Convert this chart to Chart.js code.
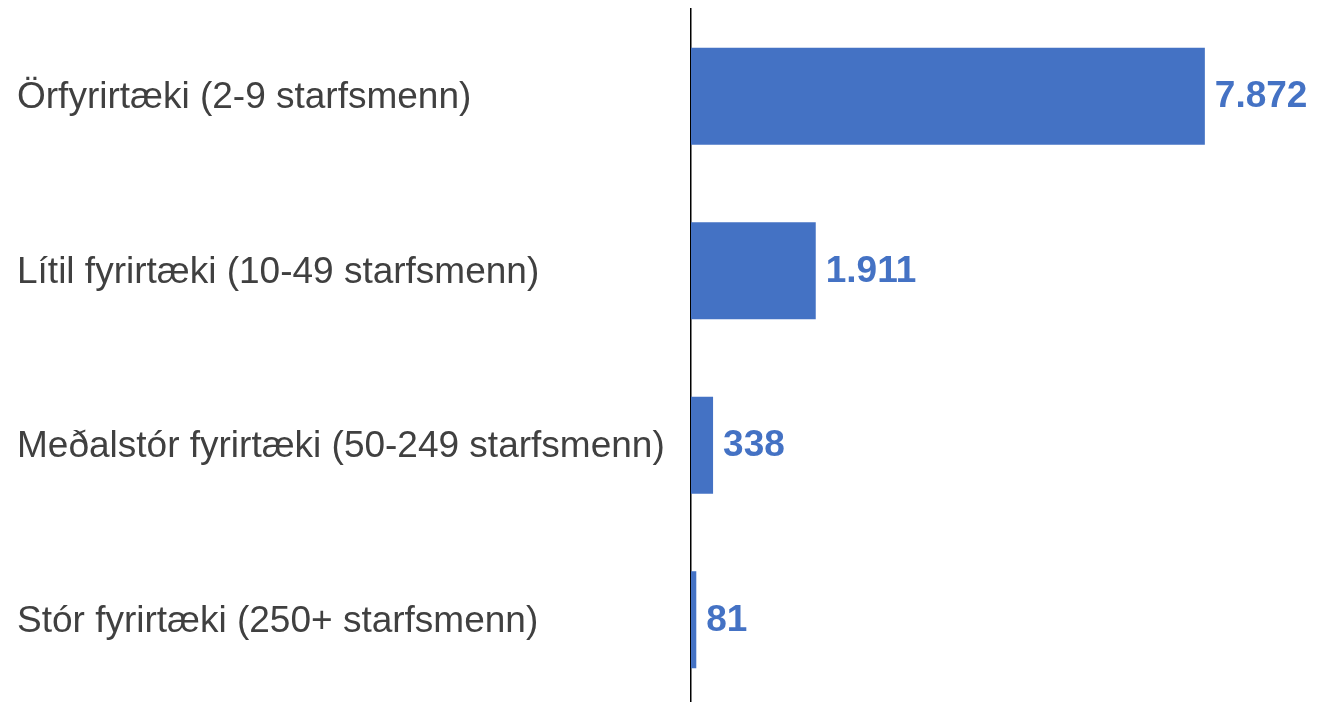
<!DOCTYPE html>
<html>
<head>
<meta charset="utf-8">
<script src="https://cdn.jsdelivr.net/npm/chart.js@4/dist/chart.umd.min.js"></script>
<style>
  html, body { margin: 0; padding: 0; background: #fff; overflow: hidden; }
  canvas { display: block; }
</style>
</head>
<body>
<canvas id="size-chart" width="1317" height="702"></canvas>
<script>
// fjöldi fyrirtækja eftir stærð
const categories = [
    'Örfyrirtæki (2-9 starfsmenn)',
    'Lítil fyrirtæki (10-49 starfsmenn)',
    'Meðalstór fyrirtæki (50-249 starfsmenn)',
    'Stór fyrirtæki (250+ starfsmenn)'
];
const values = [7872, 1911, 338, 81];

const blue = '#4472C4';

// thousands separator is a dot
function fmt(v) {
    return String(v).replace(/\B(?=(\d{3})+(?!\d))/g, '.');
}

// the original axis runs a little past the bottom edge, so stretch the y scale
const stretchY = {
    id: 'stretchY',
    afterLayout(chart) {
        const y = chart.scales.y;
        y.bottom = 707;
        y.height = y.bottom - y.top;
        y.configure();
    }
};

// draws the value right of each bar
const valueLabels = {
    id: 'valueLabels',
    afterDatasetsDraw(chart) {
        const ctx = chart.ctx;
        const meta = chart.getDatasetMeta(0);
        ctx.save();
        ctx.font = 'bold 37px "Liberation Sans", Arial, sans-serif';
        ctx.fillStyle = blue;
        ctx.textAlign = 'left';
        ctx.textBaseline = 'middle';
        meta.data.forEach(function(bar, i) {
            ctx.fillText(fmt(values[i]), bar.x + 10, bar.y + 1);
        });
        ctx.restore();
    }
};

var ctx = document.getElementById('size-chart');

var chart = new Chart(ctx, {
    type: 'bar',
    data: {
        labels: categories,
        datasets: [{
            data: values,
            backgroundColor: blue,
            borderWidth: 0,
            barPercentage: 1,
            categoryPercentage: 0.556
        }]
    },
    options: {
        indexAxis: 'y',
        responsive: false,
        animation: false,
        layout: {
            padding: { top: 9, left: 17, right: 0, bottom: 0 }
        },
        plugins: {
            legend: { display: false },
            tooltip: { enabled: false }
        },
        scales: {
            x: {
                display: false,
                min: 0,
                max: 9590
            },
            y: {
                afterFit: function(scale) { scale.width = 674; },
                grid: { display: false, drawTicks: false },
                border: { display: true, color: '#000', width: 1.5 },
                ticks: {
                    crossAlign: 'far',
                    padding: 0,
                    labelOffset: 2,
                    color: '#404040',
                    // small lineHeight so the labels don't push the chart area in
                    font: { family: '"Liberation Sans", Arial, sans-serif', size: 37, lineHeight: 0.4 }
                }
            }
        }
    },
    plugins: [stretchY, valueLabels]
});
</script>
</body>
</html>
